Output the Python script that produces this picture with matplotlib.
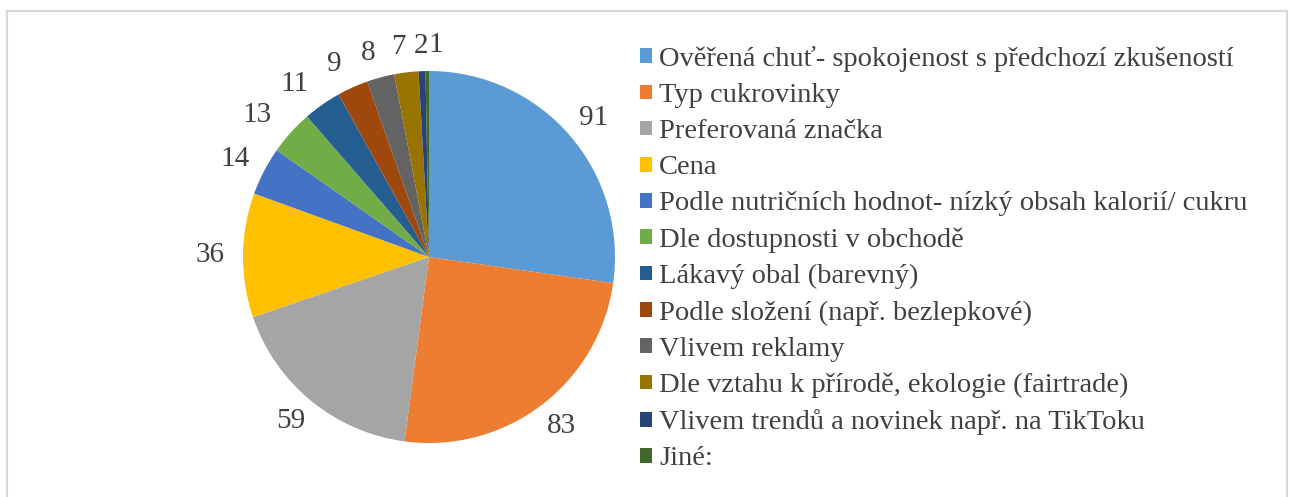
import matplotlib
matplotlib.use("Agg")
import numpy as np
import matplotlib.pyplot as plt
from matplotlib.patches import Patch, Rectangle

categories = [
    "Ověřená chuť- spokojenost s předchozí zkušeností",
    "Typ cukrovinky",
    "Preferovaná značka",
    "Cena",
    "Podle nutričních hodnot- nízký obsah kalorií/ cukru",
    "Dle dostupnosti v obchodě",
    "Lákavý obal (barevný)",
    "Podle složení (např. bezlepkové)",
    "Vlivem reklamy",
    "Dle vztahu k přírodě, ekologie (fairtrade)",
    "Vlivem trendů a novinek např. na TikToku",
    "Jiné:",
]
values = [91, 83, 59, 36, 14, 13, 11, 9, 8, 7, 2, 1]
colors = ["#5B9BD5", "#ED7D31", "#A5A5A5", "#FFC000", "#4472C4", "#70AD47",
          "#255E91", "#9E480E", "#636363", "#997300", "#264478", "#43682B"]

plt.rcParams['font.family'] = ['Liberation Serif', 'DejaVu Serif']

W, H = 1290, 497
fig = plt.figure(figsize=(W / 100, H / 100), dpi=100)

# outer border
fig.patches.append(Rectangle((7 / W, -0.05), (1287 - 7) / W, (H - 11) / H + 0.05,
                             transform=fig.transFigure, fill=False,
                             edgecolor="#D9D9D9", linewidth=1.5))

cx, cy, r = 429, 257, 186
ax = fig.add_axes([(cx - r) / W, (H - cy - r) / H, 2 * r / W, 2 * r / H])
wedges, _ = ax.pie(values, colors=colors, startangle=90, counterclock=False,
                   wedgeprops=dict(linewidth=0))

# outside-end labels: label box edge sits just outside the wedge
label_fs = 21
px = 1.0 / r  # one pixel in data units
nudge_px = {5: -10, 6: -9, 7: -8, 8: -6, 9: -5, 11: 9}   # spread crowded labels
for i, (w, v) in enumerate(zip(wedges, values)):
    ang = np.deg2rad((w.theta1 + w.theta2) / 2)
    ux, uy = np.cos(ang), np.sin(ang)
    s = str(v)
    hw = 7.0 * len(s) * px
    hh = 7.0 * px
    x = 1.10 * ux + hw * ux + nudge_px.get(i, 0) * px
    y = 1.10 * uy + hh * uy
    ax.text(x, y, s, ha="center", va="center", fontsize=label_fs, color="#404040")

ax.set_xlim(-1, 1)
ax.set_ylim(-1, 1)
ax.set_aspect("auto")
ax.axis("off")

handles = [Patch(facecolor=c, edgecolor="none") for c in colors]
leg = fig.legend(handles, categories, loc="upper left",
                 bbox_to_anchor=(640 / W, 1 - 46 / H), frameon=False,
                 fontsize=20.5, handlelength=0.42, handleheight=0.42,
                 handletextpad=0.25, labelspacing=0.39, borderpad=0,
                 borderaxespad=0)
for t in leg.get_texts():
    t.set_color("#404040")

fig.savefig("out.png", dpi=100)
